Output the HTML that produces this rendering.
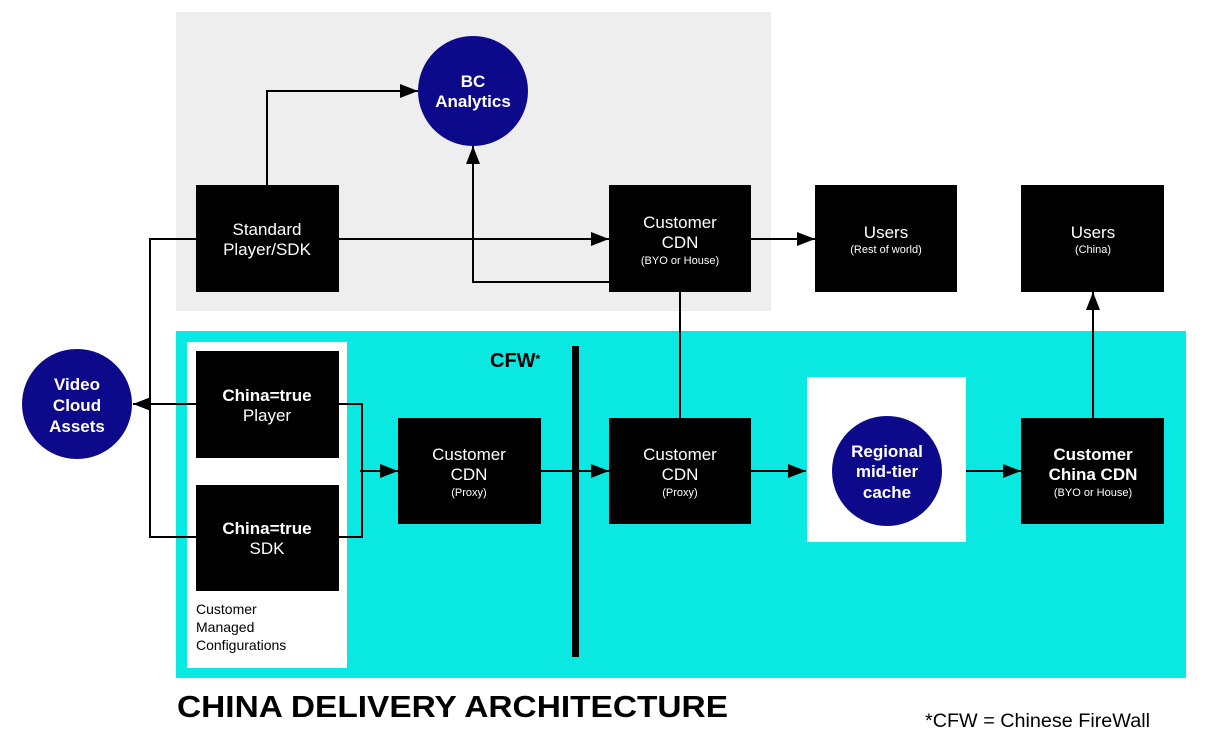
<!DOCTYPE html>
<html><head><style>
html,body{margin:0;padding:0;background:#fff;}
svg{display:block;font-family:"Liberation Sans",Arial,sans-serif;}
</style></head><body>
<svg width="1230" height="742" viewBox="0 0 1230 742" xmlns="http://www.w3.org/2000/svg">
<defs>
<marker id="a" markerWidth="18" markerHeight="14" refX="18" refY="7" orient="auto" markerUnits="userSpaceOnUse" viewBox="0 0 18 14">
<path d="M0,0 L18,7 L0,14 z" fill="#000"/></marker>
</defs>
<rect x="176" y="12" width="595" height="299" fill="#eeeeee"/>
<rect x="176" y="331" width="1010" height="347" fill="#0ae8e2"/>
<rect x="187" y="342" width="160" height="326" fill="#fff"/>
<rect x="807" y="377" width="159" height="165" fill="#fff"/>
<rect x="572" y="346" width="7" height="311" fill="#000"/>
<text x="490" y="367" font-size="20" font-weight="bold">CFW<tspan font-size="12" dy="-4">*</tspan></text>

<g stroke="#000" stroke-width="2" fill="none">
<path d="M267,185 V91 H418" marker-end="url(#a)"/>
<path d="M339,239 H609" marker-end="url(#a)"/>
<path d="M609,282 H473 V146" marker-end="url(#a)"/>
<path d="M751,239 H815" marker-end="url(#a)"/>
<path d="M680,292 V418"/>
<path d="M196,239 H150 V537 H196"/>
<path d="M196,404 H133" marker-end="url(#a)"/>
<path d="M339,404 H362 V537 H339"/>
<path d="M360,471 H398" marker-end="url(#a)"/>
<path d="M541,471 H609" marker-end="url(#a)"/>
<path d="M751,471 H806" marker-end="url(#a)"/>
<path d="M966,471 H1021" marker-end="url(#a)"/>
<path d="M1093,418 V292" marker-end="url(#a)"/>
</g>

<g fill="#000">
<rect x="196" y="185" width="143" height="107"/>
<rect x="609" y="185" width="142" height="107"/>
<rect x="815" y="185" width="142" height="107"/>
<rect x="1021" y="185" width="143" height="107"/>
<rect x="196" y="351" width="143" height="107"/>
<rect x="196" y="485" width="143" height="106"/>
<rect x="398" y="418" width="143" height="106"/>
<rect x="609" y="418" width="142" height="106"/>
<rect x="1021" y="418" width="143" height="106"/>
</g>
<g fill="#0c0a8a">
<circle cx="473" cy="91" r="55"/>
<circle cx="77" cy="404" r="55"/>
<circle cx="887" cy="471" r="55"/>
</g>

<g fill="#fff" text-anchor="middle">
<text x="473" y="87" font-size="17" font-weight="bold">BC</text>
<text x="473" y="107" font-size="17" font-weight="bold">Analytics</text>
<text x="77" y="390" font-size="17" font-weight="bold">Video</text>
<text x="77" y="411" font-size="17" font-weight="bold">Cloud</text>
<text x="77" y="432" font-size="17" font-weight="bold">Assets</text>
<text x="887" y="457" font-size="17" font-weight="bold">Regional</text>
<text x="887" y="477" font-size="17" font-weight="bold">mid-tier</text>
<text x="887" y="498" font-size="17" font-weight="bold">cache</text>

<text x="267" y="235" font-size="17">Standard</text>
<text x="267" y="255" font-size="17">Player/SDK</text>
<text x="680" y="228" font-size="17">Customer</text>
<text x="680" y="248" font-size="17">CDN</text>
<text x="680" y="264" font-size="11">(BYO or House)</text>
<text x="886" y="238" font-size="17">Users</text>
<text x="886" y="253" font-size="11">(Rest of world)</text>
<text x="1093" y="238" font-size="17">Users</text>
<text x="1093" y="253" font-size="11">(China)</text>
<text x="267" y="401" font-size="17" font-weight="bold">China=true</text>
<text x="267" y="421" font-size="17">Player</text>
<text x="267" y="534" font-size="17" font-weight="bold">China=true</text>
<text x="267" y="554" font-size="17">SDK</text>
<text x="469" y="460" font-size="17">Customer</text>
<text x="469" y="480" font-size="17">CDN</text>
<text x="469" y="496" font-size="11">(Proxy)</text>
<text x="680" y="460" font-size="17">Customer</text>
<text x="680" y="480" font-size="17">CDN</text>
<text x="680" y="496" font-size="11">(Proxy)</text>
<text x="1093" y="460" font-size="17" font-weight="bold">Customer</text>
<text x="1093" y="480" font-size="17" font-weight="bold">China CDN</text>
<text x="1093" y="496" font-size="11">(BYO or House)</text>
</g>
<g fill="#000" font-size="14">
<text x="196" y="614">Customer</text>
<text x="196" y="632">Managed</text>
<text x="196" y="650">Configurations</text>
</g>
<text x="177" y="717" font-size="31" font-weight="bold" textLength="551" lengthAdjust="spacingAndGlyphs">CHINA DELIVERY ARCHITECTURE</text>
<text x="925" y="727" font-size="19" textLength="225" lengthAdjust="spacingAndGlyphs">*CFW = Chinese FireWall</text>
</svg>
</body></html>
